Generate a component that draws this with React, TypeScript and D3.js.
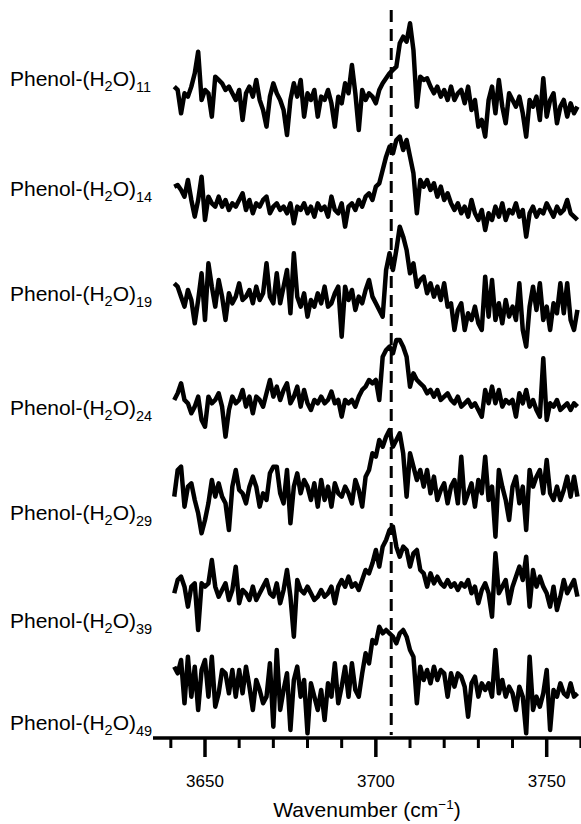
import * as d3 from 'd3';

// OH stretch spectra, one point per cm-1 from 3641 to 3759
const wavenumbers = d3.range(3641, 3760);
const clusterSizes = [11, 14, 19, 24, 29, 39, 49];

const spectrum11 = [
  140, 130, 60, 120, 110, 140, 180, 245, 100, 130,
  120, 50, 170, 160, 150, 130, 140, 120, 100, 130,
  40, 120, 140, 110, 160, 100, 70, 20, 110, 150,
  120, 100, 70, -5, 100, 150, 110, 160, 50, 120,
  100, 130, 50, 110, 100, 130, 90, 20, 110, 90,
  150, 120, 205, 120, 10, 130, 100, 120, 110, 90,
  130, 150, 165, 180, 190, 200, 270, 290, 275, 330,
  250, 80, 170, 160, 165, 140, 120, 140, 110, 130,
  100, 140, 100, 120, 130, 90, 140, 70, 100, 20,
  40, -10, 100, 140, 60, 160, 80, 30, 120, 100,
  80, 110, 60, -10, 100, 80, 110, 40, 165, 50,
  100, 120, 30, 80, 100, 50, 90, 60, 80,
];
const spectrum14 = [
  200, 205, 190, 170, 220, 160, 110, 160, 230, 100,
  170, 150, 140, 170, 140, 160, 130, 150, 140, 160,
  180, 130, 160, 120, 150, 140, 160, 170, 120, 140,
  150, 130, 140, 120, 150, 90, 140, 130, 150, 120,
  140, 110, 150, 130, 140, 110, 170, 130, 120, 150,
  80, 140, 150, 130, 160, 140, 170, 180, 160, 200,
  210, 250, 290, 320, 300, 340, 350, 310, 340, 290,
  240, 120, 220, 200, 220, 190, 210, 170, 200, 160,
  180, 150, 130, 150, 120, 140, 110, 160, 120, 100,
  130, 70, 120, 100, 140, 110, 150, 100, 130, 120,
  150, 110, 130, 50, 120, 140, 110, 130, 120, 150,
  130, 110, 140, 120, 130, 160, 120, 110, 100,
];
const spectrum19 = [
  210, 200, 170, 140, 190, 160, 90, 160, 240, 100,
  270, 200, 140, 220, 170, 100, 180, 150, 170, 210,
  160, 170, 190, 150, 200, 160, 180, 270, 170, 150,
  240, 150, 200, 250, 120, 300, 170, 140, 180, 110,
  160, 140, 180, 150, 200, 140, 150, 180, 200, 50,
  200, 160, 190, 130, 170, 150, 190, 220, 170, 150,
  130, 110, 250, 300, 250, 310, 380, 350, 310, 240,
  270, 200, 220, 230, 180, 210, 170, 200, 160, 210,
  140, 150, 70, 130, 150, 70, 120, 100, 140, 90,
  70, 230, 110, 220, 100, 150, 90, 160, 110, 140,
  100, 210, 70, 20, 140, 200, 130, 210, 100, 140,
  70, 150, 120, 210, 120, 210, 100, 70, 130,
];
const spectrum24 = [
  160, 180, 210, 160, 150, 120, 140, 170, 100, 80,
  170, 150, 160, 180, 140, 50, 130, 170, 150, 160,
  190, 140, 170, 120, 170, 160, 140, 180, 220, 170,
  200, 160, 190, 210, 150, 170, 200, 140, 190, 150,
  130, 160, 150, 170, 150, 160, 185, 150, 160, 110,
  160, 150, 160, 140, 170, 190, 200, 220, 210, 220,
  160, 290, 310, 320, 300, 340, 340, 320, 290, 200,
  240, 220, 210, 200, 180, 190, 170, 190, 160, 170,
  180, 160, 150, 170, 140, 150, 160, 140, 150, 130,
  110, 190, 150, 200, 150, 190, 140, 160, 150, 160,
  110, 180, 150, 190, 140, 160, 130, 110, 285, 100,
  150, 140, 160, 130, 140, 150, 130, 150, 140,
];
const spectrum29 = [
  170, 250, 260, 140, 200, 210, 160, 120, 60, 100,
  150, 220, 170, 210, 170, 150, 70, 200, 250, 190,
  180, 150, 200, 230, 200, 140, 180, 160, 240, 260,
  260, 180, 150, 250, 90, 200, 240, 180, 220, 200,
  160, 210, 140, 220, 160, 200, 140, 210, 180, 170,
  200, 180, 150, 220, 190, 140, 230, 250, 300, 290,
  340, 320, 350, 370, 320, 340, 360, 300, 170, 300,
  260, 220, 250, 200, 250, 180, 230, 160, 190, 210,
  150, 200, 220, 150, 290, 150, 180, 210, 140, 220,
  180, 290, 160, 200, 50, 250, 200, 160, 100, 200,
  230, 150, 200, 70, 250, 200, 230, 250, 180, 280,
  180, 160, 200, 160, 190, 230, 170, 230, 170,
];
const spectrum39 = [
  180, 220, 230, 200, 140, 200, 210, 70, 210, 200,
  210, 280, 200, 170, 190, 210, 160, 190, 260, 150,
  190, 180, 160, 200, 160, 180, 200, 220, 180, 170,
  210, 150, 190, 250, 170, 50, 220, 190, 180, 200,
  180, 160, 170, 190, 170, 180, 200, 150, 200, 220,
  200, 230, 200, 210, 190, 220, 250, 240, 270, 310,
  260, 320, 340, 370, 380, 320, 290, 320, 310, 260,
  300, 310, 250, 240, 200, 240, 210, 230, 210, 200,
  220, 200, 210, 190, 210, 200, 220, 180, 200, 150,
  190, 210, 180, 110, 300, 180, 200, 220, 150, 200,
  230, 260, 220, 290, 140, 250, 200, 230, 200, 180,
  140, 200, 130, 170, 220, 180, 200, 220, 170,
];
const spectrum49 = [
  290, 270, 310, 180, 320, 200, 290, 160, 280, 310,
  200, 320, 170, 210, 280, 270, 210, 280, 200, 280,
  210, 290, 230, 160, 250, 220, 180, 200, 300, 110,
  340, 160, 220, 270, 100, 250, 290, 200, 250, 90,
  240, 200, 160, 220, 130, 240, 200, 300, 180, 230,
  290, 200, 300, 220, 200, 270, 330, 300, 370, 360,
  410, 390, 400, 390, 380, 360, 390, 400, 380, 340,
  320, 180, 290, 250, 280, 240, 290, 250, 280, 270,
  200, 270, 230, 270, 260, 230, 140, 240, 260, 200,
  240, 220, 240, 200, 340, 210, 250, 200, 230, 210,
  160, 230, 200, 90, 320, 160, 200, 170, 210, 280,
  100, 220, 200, 240, 210, 200, 240, 200, 210,
];
const spectra = [spectrum11, spectrum14, spectrum19, spectrum24, spectrum29, spectrum39, spectrum49];

const majorTicks = [3650, 3700, 3750];
const minorTicks = [3640, 3660, 3670, 3680, 3690, 3710, 3720, 3730, 3740, 3760];
const bandCenter = 3704.5;

const width = 581;
const height = 824;
const traceTops = [0, 120, 220, 320, 420, 520, 630];
const labelBaselines = [86, 196, 301, 415, 520, 628, 730];
const axisY = 738;

const x = d3.scaleLinear().domain([3650, 3750]).range([205, 546.7]);
const y = d3.scaleLinear().domain([0, 400]).range([133.3, 0]);

const line = d3
  .line<number>()
  .x((_, i) => x(wavenumbers[i]))
  .y((d) => y(d));

const font = '"Liberation Sans", Arial, sans-serif';

const App = () => {
  return (
    <svg
      width={width}
      height={height}
      style={{ position: 'absolute', left: 0, top: 0, background: '#fff' }}
      fontFamily={font}
    >
      <line
        x1={x(bandCenter)}
        x2={x(bandCenter)}
        y1={10}
        y2={735}
        stroke="#000"
        strokeWidth={3}
        strokeDasharray="12 7"
      />

      {spectra.map((s, i) => (
        <g key={clusterSizes[i]} transform={`translate(0,${traceTops[i]})`}>
          <path
            d={line(s) ?? ''}
            fill="none"
            stroke="#000"
            strokeWidth={4.5}
            strokeLinejoin="round"
          />
        </g>
      ))}

      {clusterSizes.map((n, i) => (
        <text key={n} x={10} y={labelBaselines[i]} fontSize={21} fill="#000">
          Phenol-(H
          <tspan fontSize={14.5} dy={5}>2</tspan>
          <tspan dy={-5}>O)</tspan>
          <tspan fontSize={14.5} dy={6}>{n}</tspan>
        </text>
      ))}

      {/* x axis */}
      <line x1={153} x2={width} y1={axisY} y2={axisY} stroke="#000" strokeWidth={3.5} />
      {minorTicks.map((t) => (
        <line key={t} x1={x(t)} x2={x(t)} y1={axisY} y2={axisY + 10} stroke="#000" strokeWidth={3} />
      ))}
      {majorTicks.map((t) => (
        <g key={t}>
          <line x1={x(t)} x2={x(t)} y1={axisY} y2={axisY + 19} stroke="#000" strokeWidth={3.5} />
          <text x={x(t)} y={787} textAnchor="middle" fontSize={17} fill="#000">
            {t}
          </text>
        </g>
      ))}
      <text x={367} y={817} textAnchor="middle" fontSize={21} fill="#000">
        Wavenumber (cm
        <tspan fontSize={13.5} dy={-8}>−1</tspan>
        <tspan dy={8}>)</tspan>
      </text>
    </svg>
  );
};

export default App;
